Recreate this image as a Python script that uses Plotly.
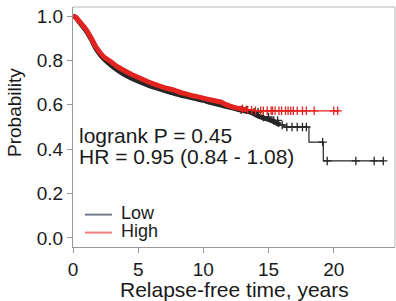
import numpy as np
import plotly.graph_objects as go

# ---- data ----
low_t = [0, 0.2, 0.5, 1.0, 1.4, 1.77, 2.1, 2.5, 3.0, 3.4, 3.85, 4.5, 5.15, 5.8, 6.4, 7.0,
         7.7, 8.3, 9.0, 9.5, 10.0, 10.6, 11.3, 11.8, 12.3, 12.8, 13.6, 14.4, 15.2, 15.9,
         16.2, 18.1, 19.2, 23.85]
low_s = [1.0, 0.995, 0.972, 0.935, 0.895, 0.853, 0.825, 0.80, 0.775, 0.757, 0.74, 0.72,
         0.703, 0.688, 0.676, 0.665, 0.653, 0.643, 0.634, 0.627, 0.62, 0.61, 0.60, 0.592,
         0.585, 0.577, 0.567, 0.545, 0.53, 0.509, 0.50, 0.432, 0.347, 0.347]

high_t = [0, 0.2, 0.5, 1.0, 1.4, 1.77, 2.3, 3.0, 3.4, 3.85, 4.5, 5.15, 5.8, 6.4, 7.0, 7.7,
          8.3, 9.0, 9.5, 10.0, 10.6, 11.3, 11.8, 12.3, 12.8, 13.4, 14.0, 20.4]
high_s = [1.0, 0.995, 0.975, 0.94, 0.90, 0.86, 0.82, 0.79, 0.772, 0.757, 0.737, 0.72,
          0.703, 0.69, 0.678, 0.667, 0.655, 0.644, 0.637, 0.63, 0.622, 0.613, 0.60, 0.59,
          0.583, 0.577, 0.573, 0.573]

# individually visible censor marks (the earlier ones merge into a thick band)
low_cens = [12.9, 13.3, 13.9, 14.2, 14.6, 15.0, 15.4, 15.7, 16.05, 16.4, 16.8, 17.2, 17.6,
            17.9, 19.15, 19.5, 21.7, 23.1, 23.8]
high_cens = [13.0, 13.4, 13.7, 14.0, 14.4, 14.6, 14.9, 15.2, 15.3, 15.5, 15.8, 16.0, 16.3,
             16.5, 16.7, 16.9, 17.2, 17.6, 17.9, 18.5, 20.0, 20.3]
# time until which censoring is so dense that the curve looks like a thick band
low_dense_until = 15.9
high_dense_until = 13.4

x_ticks = [0, 5, 10, 15, 20]
y_ticks = [0.0, 0.2, 0.4, 0.6, 0.8, 1.0]
series_names = ["Low", "High"]
stats_text = ["logrank P = 0.45", "HR = 0.95 (0.84 - 1.08)"]

FONT = "Arial, Liberation Sans, sans-serif"
LOW_COL = "#262626"
HIGH_COL = "#e3231f"


def step_at(ts, ss, cs):
    ts = np.asarray(ts)
    idx = np.searchsorted(ts, np.asarray(cs), side="right") - 1
    return np.asarray(ss)[idx]


fig = go.Figure()
for t, s, c, col, dense in [(low_t, low_s, low_cens, LOW_COL, low_dense_until),
                            (high_t, high_s, high_cens, HIGH_COL, high_dense_until)]:
    ta, sa = np.asarray(t), np.asarray(s)
    m = ta <= dense
    i0 = int(np.nonzero(m)[0][-1])
    # dense-censoring band (smooth, thick)
    fig.add_trace(go.Scatter(x=ta[m], y=sa[m], mode="lines",
                             line=dict(color=col, width=5, shape="spline", smoothing=0.6),
                             showlegend=False, hoverinfo="skip"))
    # later steps (thin)
    fig.add_trace(go.Scatter(x=ta[i0:], y=sa[i0:], mode="lines",
                             line=dict(color=col, width=1.2, shape="hv"),
                             showlegend=False, hoverinfo="skip"))
    fig.add_trace(go.Scatter(x=c, y=step_at(t, s, c), mode="markers",
                             marker=dict(symbol="cross-thin", size=6,
                                         line=dict(color=col, width=1.3)),
                             showlegend=False, hoverinfo="skip"))

fig.update_layout(
    width=396, height=301,
    margin=dict(l=73, r=1, t=7, b=54),
    paper_bgcolor="white", plot_bgcolor="white",
    font=dict(family=FONT, size=19, color="#1a1a1a"),
    xaxis=dict(range=[0, 24.7], tickvals=x_ticks, ticks="outside", ticklen=5,
               tickcolor="#999", showline=True, linecolor="#999", showgrid=False,
               zeroline=False, tickfont=dict(size=19), automargin=False),
    yaxis=dict(range=[-0.041, 1.041], tickvals=y_ticks, tickformat=".1f", ticks="outside",
               ticklen=5, tickcolor="#999", showline=True, linecolor="#999", showgrid=False,
               zeroline=False, tickfont=dict(size=19), automargin=False),
    showlegend=False,
)

# light frame on top / right
fig.add_shape(type="line", xref="paper", yref="paper", x0=0, x1=1, y0=1, y1=1,
              line=dict(color="#cfcfcf", width=1.5))
fig.add_shape(type="line", xref="paper", yref="paper", x0=1, x1=1, y0=0, y1=1,
              line=dict(color="#cfcfcf", width=1.5))

# axis titles
fig.add_annotation(text="Relapse-free time, years", xref="paper", yref="paper",
                   x=0.5, y=-0.175, xanchor="center", yanchor="middle", showarrow=False,
                   font=dict(size=21))
fig.add_annotation(text="Probability", xref="paper", yref="paper",
                   x=-0.182, y=0.56, xanchor="center", yanchor="middle", showarrow=False,
                   textangle=-90, font=dict(size=19))

# statistics text
fig.add_annotation(text=stats_text[0], xref="paper", yref="paper", x=0.012, y=0.465,
                   xanchor="left", yanchor="middle", showarrow=False, font=dict(size=21))
fig.add_annotation(text=stats_text[1], xref="paper", yref="paper", x=0.012, y=0.378,
                   xanchor="left", yanchor="middle", showarrow=False, font=dict(size=21))

# legend (manual, compact)
leg_cols = ["#6f7d8a", "#f07f7f"]
leg_y = [0.135, 0.06]
for name, col, ly in zip(series_names, leg_cols, leg_y):
    fig.add_shape(type="line", xref="paper", yref="paper", x0=0.037, x1=0.121, y0=ly, y1=ly,
                  line=dict(color=col, width=2))
    fig.add_annotation(text=name, xref="paper", yref="paper", x=0.143, y=ly + 0.006,
                       xanchor="left", yanchor="middle", showarrow=False, font=dict(size=18))

fig.write_html("out.html", config={"displayModeBar": False},
               post_script="document.body.style.margin='0';document.body.style.padding='0';")
